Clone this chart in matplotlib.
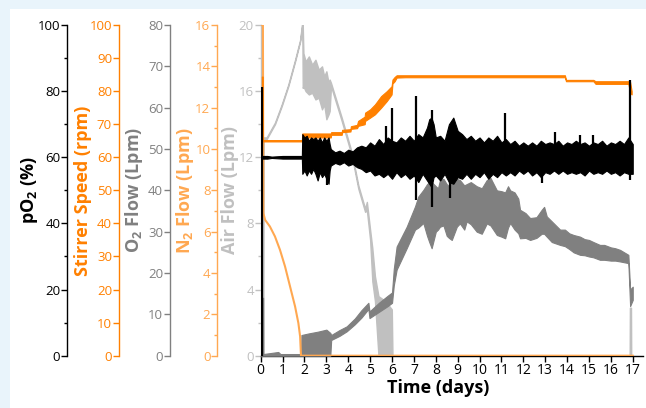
import matplotlib
matplotlib.use("Agg")
import matplotlib.pyplot as plt
from matplotlib.ticker import MultipleLocator
from matplotlib.patches import Rectangle

# ---- data (time in days) ----
# dissolved oxygen, pO2 (%) : lower / upper edge of the noisy trace
po2_t = [0.00, 0.30, 0.50, 1.00, 1.88, 1.90, 2.00, 2.10, 2.20, 2.30, 2.40, 2.50, 2.60,
         2.70, 2.80, 2.90, 3.00, 3.10, 3.15, 3.20, 3.40, 3.60, 3.80, 4.00, 4.20, 4.40,
         4.60, 4.80, 5.00, 5.20, 5.40, 5.60, 5.80, 6.00, 6.20, 6.40, 6.60, 6.80, 7.00,
         7.20, 7.40, 7.60, 7.70, 7.80, 7.90, 8.00, 8.20, 8.40, 8.60, 8.80, 9.00, 9.20,
         9.40, 9.60, 9.80, 10.00, 10.20, 10.40, 10.60, 10.80, 11.00, 11.20, 11.40,
         11.60, 11.80, 12.00, 12.20, 12.40, 12.60, 12.80, 13.00, 13.20, 13.40, 13.60,
         13.80, 14.00, 14.20, 14.40, 14.60, 14.80, 15.00, 15.20, 15.40, 15.60, 15.80,
         16.00, 16.20, 16.40, 16.60, 16.80, 17.00]
po2_lo = [59.6, 59.6, 59.8, 59.6, 59.6, 55.0, 56.0, 54.5, 56.0, 55.0, 56.5, 55.0, 53.0,
          55.5, 54.0, 55.0, 53.5, 52.0, 56.0, 57.5, 58.3, 57.8, 58.5, 57.5, 58.0, 57.0,
          56.5, 55.5, 56.0, 54.5, 55.0, 54.0, 55.0, 53.5, 55.5, 54.0, 55.0, 53.5, 54.5,
          52.5, 55.0, 53.0, 52.0, 51.0, 54.0, 54.5, 53.0, 55.0, 52.5, 52.0, 54.0, 53.5,
          55.0, 53.5, 55.0, 54.0, 55.5, 53.5, 55.0, 54.0, 55.5, 54.5, 55.5,
          54.5, 56.0, 55.0, 56.0, 54.5, 55.5, 54.0, 55.5, 55.0, 56.0, 55.0,
          56.0, 55.0, 55.5, 55.0, 55.5, 54.5, 56.0, 55.0, 55.5, 55.0, 56.0,
          55.0, 55.5, 54.5, 55.5, 55.0, 55.0]
po2_hi = [60.4, 60.4, 60.2, 60.4, 60.4, 67.0, 66.0, 66.5, 65.0, 66.0, 65.5, 66.0, 65.0,
          66.0, 64.5, 66.0, 65.0, 66.0, 64.0, 62.5, 61.5, 62.0, 61.3, 62.3, 61.8, 63.0,
          63.5, 63.0, 64.5, 63.5, 65.5, 64.0, 66.0, 65.0, 64.5, 66.0, 65.0, 66.5, 65.0,
          67.0, 66.0, 69.0, 71.5, 72.0, 70.0, 66.0, 66.5, 65.0, 70.0, 72.0, 68.0, 67.0,
          65.5, 66.5, 65.0, 66.0, 64.5, 66.0, 65.0, 66.5, 64.5, 65.5, 64.0,
          65.0, 63.5, 64.5, 63.5, 64.5, 63.5, 65.0, 64.0, 64.5, 64.0, 65.0,
          63.5, 64.5, 64.0, 65.0, 64.0, 64.5, 63.5, 64.5, 64.0, 65.0, 63.5,
          64.5, 64.0, 65.0, 64.0, 66.0, 64.0]
# single spikes of the pO2 trace
spike_t = [0.05, 3.05, 5.72, 5.99, 7.08, 7.81, 8.65, 11.17, 12.84, 13.45, 14.60, 15.17,
           16.88]
spike_lo = [0.0, 51.7, 58.0, 58.0, 47.0, 45.0, 47.7, 58.0, 52.3, 57.0, 57.0, 57.0, 53.0]
spike_hi = [81.4, 60.0, 69.5, 75.0, 78.5, 74.3, 62.0, 73.3, 60.0, 67.7, 66.8, 66.8, 83.4]

# stirrer speed (rpm)
stir_t = [0.05, 0.09, 0.10, 1.88, 1.90, 3.20, 3.22, 3.70, 3.72, 4.10, 4.12, 4.40, 4.45,
          4.75, 4.77, 5.00, 5.22, 5.50, 5.76, 5.98, 6.02, 6.12, 6.21, 6.60, 13.90, 13.95,
          15.20, 15.30, 16.80, 16.88, 16.95]
stir_lo = [64.8, 64.8, 64.8, 64.8, 66.0, 66.0, 66.8, 66.8, 67.6, 67.8, 68.6, 68.8, 69.5,
           70.0, 71.0, 72.0, 73.0, 75.0, 77.0, 79.0, 82.3, 83.0, 84.1, 84.2, 84.2, 83.0,
           83.0, 82.2, 82.2, 79.5, 79.0]
stir_hi = [84.4, 84.4, 65.2, 65.2, 67.2, 67.2, 67.6, 67.6, 68.3, 68.5, 69.4, 69.8, 71.0,
           72.3, 73.5, 74.5, 76.0, 78.5, 80.0, 81.5, 83.5, 84.3, 84.8, 84.8, 84.8, 83.4,
           83.4, 83.0, 83.0, 82.8, 80.0]

# O2 flow (Lpm)
o2_t = [0.00, 0.07, 0.08, 0.11, 0.12, 0.80, 0.90, 1.84, 1.86, 2.20, 2.60, 3.00, 3.18,
        3.22, 3.60, 3.93, 4.30, 4.60, 4.92, 4.97, 5.40, 5.80, 6.00, 6.08, 6.21, 6.67,
        7.05, 7.20, 7.43, 7.60, 7.70, 7.81, 8.00, 8.10, 8.19, 8.35, 8.50, 8.60, 8.73,
        8.96, 9.10, 9.30, 9.41, 9.60, 9.87, 10.10, 10.33, 10.50, 10.79, 11.00, 11.17,
        11.30, 11.40, 11.60, 11.77, 11.85, 12.10, 12.31, 12.60, 12.84, 12.95, 13.07,
        13.30, 13.68, 13.90, 14.10, 14.30, 14.59, 14.80, 15.00, 15.20, 15.50, 15.70,
        16.00, 16.20, 16.42, 16.80, 16.88, 17.00]
o2_lo = [0.0, 0.0, 0.0, 0.0, 0.0, 0.0, 0.0, 0.0, 0.0, 0.0, 0.0, 0.0, 0.0,
         3.8, 4.8, 5.9, 7.6, 9.2, 11.3, 9.1, 10.6, 12.0, 12.8, 17.0, 20.8, 26.0,
         30.5, 31.0, 32.1, 29.0, 27.5, 26.0, 30.0, 30.5, 31.2, 31.5, 29.0, 28.5, 28.0,
         31.2, 32.0, 30.5, 32.5, 31.8, 30.0, 29.5, 32.0, 31.5, 29.2, 28.8, 28.4,
         31.0, 32.1, 30.5, 29.6, 28.4, 28.5, 28.0, 28.5, 29.5, 29.5, 28.8,
         27.5, 26.8, 26.5, 25.8, 25.0, 24.4, 24.3, 24.0, 23.8, 23.2, 23.2,
         23.0, 23.0, 22.8, 22.4, 12.0, 13.5]
o2_hi = [0.3, 0.3, 14.0, 14.0, 0.4, 0.9, 0.4, 0.4, 5.0, 5.4, 5.8, 6.3, 5.5,
         5.0, 6.2, 7.1, 9.0, 11.0, 12.8, 10.7, 12.8, 14.5, 15.3, 21.0, 26.4, 31.2,
         36.1, 38.5, 40.1, 41.5, 42.0, 42.0, 41.0, 40.5, 42.5, 42.8, 41.5, 41.0, 43.3,
         42.8, 42.5, 41.2, 41.5, 42.0, 41.0, 40.5, 42.5, 43.0, 40.0, 39.8, 39.5,
         41.0, 40.0, 39.5, 38.0, 35.3, 34.5, 33.3, 33.5, 35.3, 36.0, 33.7,
         32.5, 30.5, 30.5, 29.6, 29.2, 28.8, 28.2, 28.0, 27.5, 26.8, 26.8,
         26.2, 26.0, 25.6, 24.4, 16.0, 16.7]

# N2 flow (Lpm)
n2_t = [0.07, 0.10, 0.12, 0.20, 0.42, 0.65, 0.88, 1.11, 1.34, 1.57, 1.72, 1.80, 1.84,
        17.00]
n2_v = [16.0, 16.0, 6.9, 6.57, 6.25, 5.77, 5.12, 4.32, 3.35, 2.38, 1.58, 0.93, 0.0,
        0.0]

# air flow (Lpm)
air_t = [0.00, 0.10, 0.11, 0.12, 0.27, 0.65, 0.96, 1.26, 1.57, 1.80, 1.90, 1.92, 1.95,
         2.05, 2.20, 2.35, 2.50, 2.65, 2.80, 2.90, 3.00, 3.10, 3.15, 3.21, 3.70, 4.16,
         4.46, 4.77, 4.85, 5.00, 5.10, 5.22, 5.38, 5.70, 5.99, 6.02, 16.86, 16.87,
         16.92, 16.93, 17.00]
air_lo = [0.0, 0.0, 0.0, 13.1, 13.1, 14.0, 15.1, 16.3, 17.8, 19.0, 20.0, 16.2, 16.3,
          16.0, 15.8, 15.9, 15.5, 15.6, 14.9, 15.2, 14.3, 14.6, 14.8, 16.3, 14.2, 12.1,
          10.1, 8.7, 8.8, 7.0, 4.5, 3.3, 0.0, 0.0, 0.0, 0.0, 0.0, 0.0, 0.0, 0.0, 0.0]
air_hi = [0.0, 0.0, 13.2, 13.2, 13.2, 14.1, 15.2, 16.4, 17.9, 19.1, 20.2, 20.0, 18.3,
          17.8, 18.1, 17.6, 17.9, 17.3, 17.5, 16.9, 17.2, 16.5, 16.7, 16.5, 14.4, 12.3,
          10.3, 8.9, 9.3, 7.6, 6.5, 4.8, 3.6, 3.3, 2.8, 0.0, 0.0, 2.9, 2.9, 0.0, 0.0]

days = list(range(0, 18))

BLACK = "black"
ORANGE = "#ff8000"
GRAY = "#808080"
LORANGE = "#ffa851"
LGRAY = "#c0c0c0"

plt.rcParams["font.family"] = ["Open Sans", "DejaVu Sans"]
plt.rcParams["mathtext.fontset"] = "custom"
plt.rcParams["mathtext.rm"] = "Open Sans"
plt.rcParams["mathtext.bf"] = "Open Sans:bold"

fig = plt.figure(figsize=(6.46, 4.08), dpi=100, facecolor="#e9f4fb")
fig.add_artist(Rectangle((10 / 646, 0), 1, 399 / 408, transform=fig.transFigure,
                         facecolor="white", edgecolor="none", zorder=-10))

ax_air = fig.add_axes([0.4036, 0.1282, 0.5918, 0.8105])
ax_o2 = ax_air.twinx()
ax_n2 = ax_air.twinx()
ax_st = ax_air.twinx()
ax_po2 = ax_air.twinx()

# (axis, colour, ylim, major, minor, spine position, label, label x)
setup = [
    (ax_air, LGRAY, 20, 4, 2, 0.0, "Air Flow (Lpm)", -0.057),
    (ax_n2, LORANGE, 16, 2, 1, -0.1135, "N$_\\mathbf{2}$ Flow (Lpm)", -0.169),
    (ax_o2, GRAY, 80, 10, None, -0.2372, "O$_\\mathbf{2}$ Flow (Lpm)", -0.303),
    (ax_st, ORANGE, 100, 10, None, -0.3707, "Stirrer Speed (rpm)", -0.441),
    (ax_po2, BLACK, 100, 20, 10, -0.5059, "pO$_\\mathbf{2}$ (%)", -0.577),
]
for ax, c, top, major, minor, pos, label, lx in setup:
    ax.set_ylim(0, top)
    ax.set_xlim(0, 17.47)
    for s in ["top", "right", "bottom"]:
        ax.spines[s].set_visible(False)
    ax.spines["left"].set_position(("axes", pos))
    ax.spines["left"].set_color(c)
    ax.spines["left"].set_linewidth(1.0)
    ax.yaxis.set_ticks_position("left")
    ax.yaxis.set_label_position("left")
    ax.yaxis.set_major_locator(MultipleLocator(major))
    if minor:
        ax.yaxis.set_minor_locator(MultipleLocator(minor))
    ax.tick_params(axis="y", which="major", colors=c, labelcolor=c, labelsize=9.5,
                   length=4, width=1, pad=1)
    ax.tick_params(axis="y", which="minor", colors=c, length=2, width=1)
    ax.set_ylabel(label, color=c, fontsize=13, fontweight="bold")
    ax.yaxis.set_label_coords(lx, 0.5)

ax_air.spines["bottom"].set_visible(True)
ax_air.spines["bottom"].set_color(BLACK)
ax_air.spines["bottom"].set_linewidth(1.0)
ax_air.set_xticks(days)
ax_air.tick_params(axis="x", colors=BLACK, labelsize=10, length=4, width=1, pad=1)
ax_air.set_xlabel("Time (days)", fontsize=13, fontweight="bold")
ax_air.xaxis.set_label_coords(0.464, -0.07)

# data
ax_air.fill_between(air_t, air_lo, air_hi, color=LGRAY, lw=1.0)
ax_o2.fill_between(o2_t, o2_lo, o2_hi, color=GRAY, lw=0.8)
ax_n2.plot(n2_t, n2_v, color=LORANGE, lw=1.5)
ax_st.fill_between(stir_t, stir_lo, stir_hi, color=ORANGE, lw=0.8)
ax_po2.fill_between(po2_t, po2_lo, po2_hi, color=BLACK, lw=0.8)
ax_po2.vlines(spike_t, spike_lo, spike_hi, color=BLACK, lw=1.6)

fig.savefig("out.png", dpi=100, facecolor=fig.get_facecolor())
